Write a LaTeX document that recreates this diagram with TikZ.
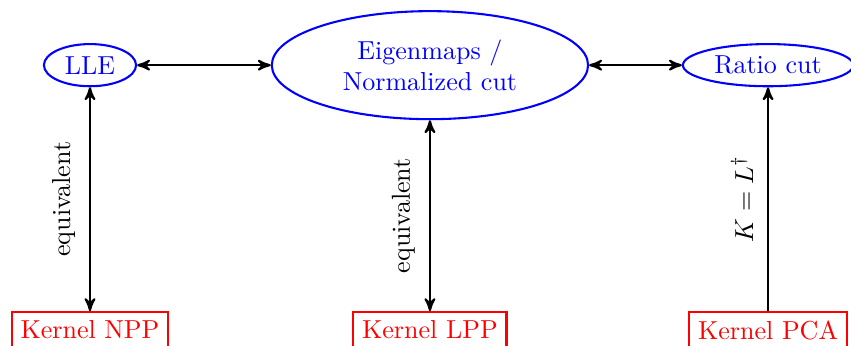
\documentclass[tikz,border=0pt]{standalone}
\usepackage{amsmath}
\usepackage{amssymb}
\usepackage{tikz}
\usetikzlibrary{arrows,shapes.geometric}

\begin{document}
\begin{tikzpicture}[>=stealth', thick,
  method/.style={draw=blue, text=blue, ellipse, inner sep=1pt, align=center},
  kernel/.style={draw=red, text=red, rectangle, anchor=north}]
\useasboundingbox (0,0) rectangle (11.49,4.66);
\node[method, minimum width=35.4pt, minimum height=16.2pt] (lle) at (1.215,3.78) {LLE};
\node[method, minimum width=121.5pt, minimum height=41.5pt] (eig) at (5.805,3.78) {Eigenmaps /\\ Normalized cut};
\node[method, minimum width=65.4pt, minimum height=16.2pt] (ratio) at (10.37,3.78) {Ratio cut};
\node[kernel] (npp) at (1.215,0.459) {Kernel NPP};
\node[kernel] (lpp) at (5.805,0.459) {Kernel LPP};
\node[kernel] (pca) at (10.37,0.459) {Kernel PCA};
\draw[<->] (lle) -- (eig);
\draw[<->] (eig) -- (ratio);
\draw[<->] (npp) -- node[midway, above=2pt, sloped] {equivalent} (lle);
\draw[<->] (lpp) -- node[midway, above=2pt, sloped] {equivalent} (eig);
\draw[->] (pca) -- node[midway, above=2pt, sloped] {$K = L^\dagger$} (ratio);
\end{tikzpicture}
\end{document}
